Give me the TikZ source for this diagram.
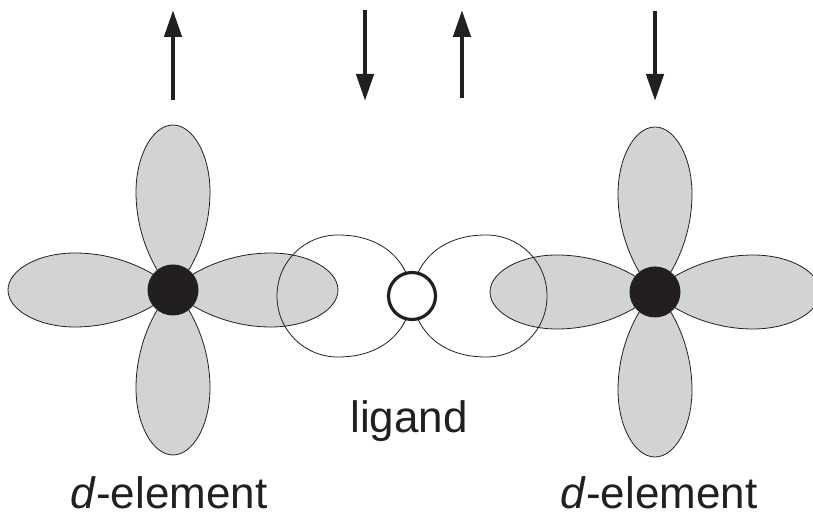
\documentclass[tikz,border=0pt]{standalone}
\usepackage{fontspec}
\setmainfont{Liberation Sans}
\usepackage{tikz}
\usetikzlibrary{arrows.meta}
\usetikzlibrary{positioning}
\definecolor{lobegray}{RGB}{209,211,212}
\definecolor{inkblack}{RGB}{35,31,32}

\begin{document}
\begin{tikzpicture}[x=1pt,y=1pt,
	dlobe/.style={draw=inkblack,fill=lobegray,line width=0.8pt},
	plobe/.style={draw=inkblack,line width=0.8pt},
	atom/.style={circle,fill=inkblack,minimum size=51pt,inner sep=0pt},
	lig/.style={circle,draw=inkblack,fill=white,line width=3.2pt,minimum size=47pt,inner sep=0pt},
	spin/.style={line width=4.5pt,draw=inkblack,-{Triangle[length=27pt,width=17pt]}},
	lbl/.style={font=\fontsize{44}{52}\selectfont,text=inkblack,inner sep=0pt,anchor=base}]
	\useasboundingbox (0,0) rectangle (813,516);
	\coordinate (m1) at (173,226);
	\coordinate (m2) at (655,224);
	\coordinate (lc) at (412,220);
	% d orbitals, four lobes each
	\foreach \m in {m1,m2}{
	    \foreach \a in {0,90,180,270}
	        \draw[dlobe,shift={(\m)},rotate=\a] (0,0) .. controls (12,14) and (50,37) .. (98,37) .. controls (135,37) and (165,20) .. (165,0) .. controls (165,-20) and (135,-37) .. (98,-37) .. controls (50,-37) and (12,-14) .. (0,0) -- cycle;
	}
	\node[atom] (d1) at (m1) {};
	\node[atom] (d2) at (m2) {};
	% p orbital of the ligand
	\foreach \a in {0,180}
	    \draw[plobe,shift={(lc)},rotate=\a] (0,0) .. controls (2,30) and (25,61) .. (74,61) .. controls (108,61) and (135,34) .. (135,0) .. controls (135,-34) and (108,-61) .. (74,-61) .. controls (25,-61) and (2,-30) .. (0,0) -- cycle;
	\node[lig] (L) at (lc) {};
	% spins
	\foreach \x/\y/\d in {173/416/90,365/506/-91,462/418/88,655/505/-90}
	    \draw[spin] (\x,\y) -- ++(0,\d);
	\node[lbl] (t1) at (169,7) {\textit{d}-element};
	\node[lbl] (t2) at (659,7) {\textit{d}-element};
	\node[lbl] (t3) at (409,83) {ligand};
\end{tikzpicture}
\end{document}
